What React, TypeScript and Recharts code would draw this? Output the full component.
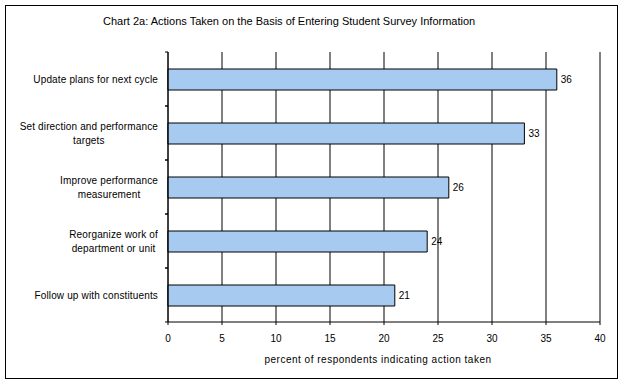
import React from 'react';
import { BarChart, Bar, XAxis, YAxis, CartesianGrid, LabelList, ReferenceLine } from 'recharts';

// categories top to bottom; "\n" marks where the original label wraps
const categories = [
  'Update plans for next cycle',
  'Set direction and performance\ntargets',
  'Improve performance\nmeasurement',
  'Reorganize work of\ndepartment or unit',
  'Follow up with constituents',
];
const percents = [36, 33, 26, 24, 21];
const xTicks = [0, 5, 10, 15, 20, 25, 30, 35, 40];

const data = categories.map((name, i) => ({ name, value: percents[i] }));

const FONT = '"Liberation Sans", Arial, sans-serif';

let measureCtx: CanvasRenderingContext2D | null = null;
const textWidth = (s: string) => {
  if (!measureCtx) {
    measureCtx = document.createElement('canvas').getContext('2d');
    if (measureCtx) measureCtx.font = '10px "Liberation Sans"';
  }
  return measureCtx ? measureCtx.measureText(s).width + s.length * 0.15 : s.length * 5;
};

const CategoryTick = (props: any) => {
  const { x, y, payload, height } = props;
  const lines: string[] = String(payload.value).split('\n');
  const half = payload.offset || height / (2 * categories.length);
  const maxW = Math.max(...lines.map(textWidth));
  const cx = x - maxW / 2;
  return (
    <g>
      <line x1={x + 7} x2={x + 10} y1={y - half} y2={y - half} stroke="#000" />
      <line x1={x + 7} x2={x + 10} y1={y + half} y2={y + half} stroke="#000" />
      <text
        x={cx}
        y={y}
        textAnchor="middle"
        fontSize={10}
        fontFamily={FONT}
        letterSpacing={0.15}
        fill="#000"
      >
        {lines.map((l, i) => (
          <tspan key={i} x={cx} y={y + (i - (lines.length - 1) / 2) * 14} dy="0.35em">
            {l}
          </tspan>
        ))}
      </text>
    </g>
  );
};

export default function App() {
  return (
    <div style={{ position: 'absolute', left: 0, top: 0, width: 623, height: 383, background: '#fff' }}>
      <div
        style={{
          position: 'absolute',
          left: 5,
          top: 5,
          width: 613,
          height: 374,
          border: '1px solid #000',
          boxSizing: 'border-box',
        }}
      />
      <div
        style={{
          position: 'absolute',
          left: 103,
          top: 15,
          fontFamily: FONT,
          fontSize: 11,
          color: '#000',
          whiteSpace: 'nowrap',
        }}
      >
        Chart 2a: Actions Taken on the Basis of Entering Student Survey Information
      </div>
      <div style={{ position: 'absolute', left: 0, top: 0 }}>
        <BarChart
          width={623}
          height={383}
          data={data}
          layout="vertical"
          margin={{ top: 52, right: 23, bottom: 0, left: 8 }}
        >
          <CartesianGrid horizontal={false} stroke="#000" />
          <XAxis
            type="number"
            domain={[0, 40]}
            ticks={xTicks}
            interval={0}
            height={61}
            tickSize={3}
            tickMargin={10}
            axisLine={{ stroke: '#000' }}
            tickLine={{ stroke: '#000' }}
            tick={{ fontSize: 10, fontFamily: FONT, fill: '#000' }}
            label={{
              value: 'percent of respondents indicating action taken',
              position: 'insideBottom',
              offset: 20,
              dx: -6,
              fontSize: 10,
              fontFamily: FONT,
              letterSpacing: 0.5,
              fill: '#000',
            }}
          />
          <XAxis
            xAxisId="top"
            orientation="top"
            type="number"
            domain={[0, 40]}
            height={0}
            tick={false}
            tickLine={false}
            axisLine={{ stroke: '#808080' }}
          />
          <YAxis
            type="category"
            dataKey="name"
            width={160}
            tickSize={3}
            tickMargin={7}
            tickLine={false}
            axisLine={{ stroke: '#000' }}
            interval={0}
            tick={<CategoryTick />}
          />
          <ReferenceLine x={40} stroke="#808080" />
          <Bar dataKey="value" fill="#A6CAF0" stroke="#000" strokeWidth={1} barSize={21} isAnimationActive={false}>
            <LabelList dataKey="value" position="right" offset={4} fill="#000" fontSize={10} fontFamily={FONT} />
          </Bar>
        </BarChart>
      </div>
    </div>
  );
}
